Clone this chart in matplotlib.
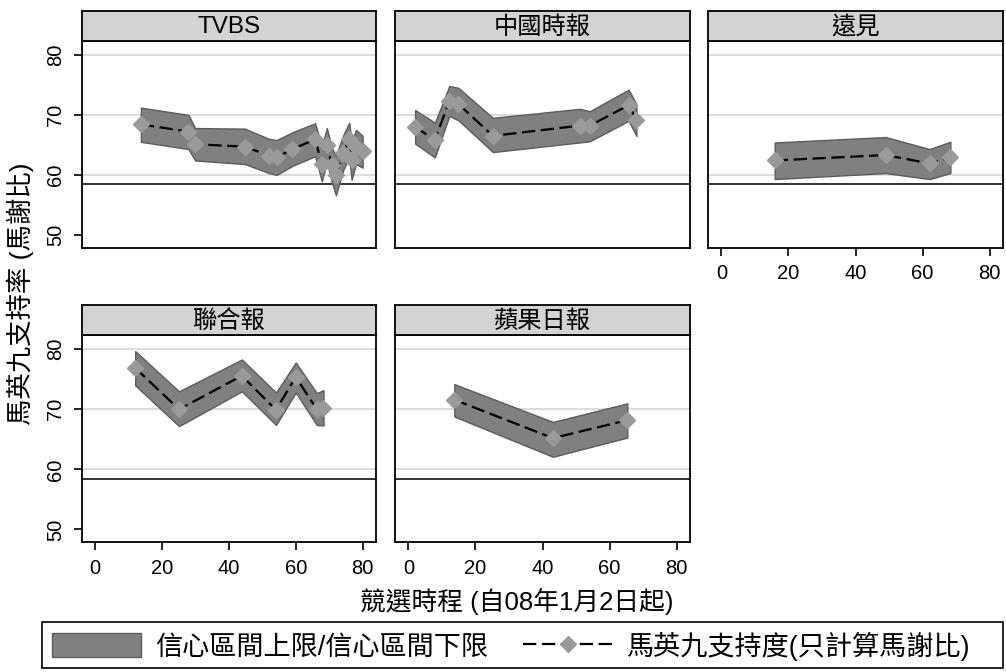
import matplotlib
matplotlib.use("Agg")
import matplotlib.pyplot as plt
from matplotlib.patches import Patch, Rectangle
from matplotlib.lines import Line2D

plt.rcParams['font.family'] = ['Liberation Sans', 'Noto Sans CJK TC']

# data (day since 2008-01-02, Ma share %, CI upper, CI lower)
tvbs_day = [13.7, 27.9, 29.9, 44.8, 52.0, 54.3, 59.0, 65.8, 67.8, 69.3, 70.8, 72.0, 74.2, 76.0, 76.7, 78.0, 80.0]
tvbs_ma = [68.4, 67.2, 65.1, 64.7, 63.2, 62.9, 64.3, 65.9, 61.8, 65.0, 61.7, 60.0, 63.7, 65.9, 62.5, 64.7, 63.9]
tvbs_hi = [71.2, 70.0, 67.8, 67.7, 66.0, 65.8, 67.1, 68.6, 64.7, 67.8, 64.5, 63.2, 66.6, 68.7, 65.4, 67.5, 66.5]
tvbs_lo = [65.5, 64.3, 62.4, 61.8, 60.3, 60.0, 61.5, 63.1, 58.9, 62.2, 58.8, 56.6, 60.8, 63.0, 59.2, 61.8, 61.2]

ct_day = [2.0, 7.9, 12.2, 14.9, 25.2, 51.1, 54.1, 65.7, 68.0]
ct_ma = [68.0, 65.8, 72.3, 71.8, 66.5, 68.2, 68.2, 71.6, 69.2]
ct_hi = [70.8, 68.7, 74.8, 74.5, 69.5, 71.0, 70.6, 74.2, 71.8]
ct_lo = [65.2, 62.9, 69.8, 69.1, 63.8, 65.4, 65.6, 69.0, 66.5]

yj_day = [15.9, 49.0, 62.1, 68.3]
yj_ma = [62.4, 63.3, 61.9, 62.9]
yj_hi = [65.4, 66.3, 64.3, 65.5]
yj_lo = [59.3, 60.3, 59.3, 60.3]

udn_day = [12.0, 25.1, 43.9, 54.1, 60.0, 66.3, 68.3]
udn_ma = [76.9, 70.0, 75.6, 69.9, 75.4, 70.0, 70.3]
udn_hi = [79.7, 73.0, 78.3, 72.8, 77.8, 72.7, 73.2]
udn_lo = [74.0, 67.2, 73.0, 67.4, 72.8, 67.4, 67.3]

ad_day = [13.7, 43.1, 65.3]
ad_ma = [71.6, 65.2, 68.2]
ad_hi = [74.2, 67.9, 71.0]
ad_lo = [68.8, 62.1, 65.3]

names = ['TVBS', '中國時報', '遠見', '聯合報', '蘋果日報']
days = [tvbs_day, ct_day, yj_day, udn_day, ad_day]
ma = [tvbs_ma, ct_ma, yj_ma, udn_ma, ad_ma]
hi = [tvbs_hi, ct_hi, yj_hi, udn_hi, ad_hi]
lo = [tvbs_lo, ct_lo, yj_lo, udn_lo, ad_lo]

vote_share = 58.45
x_ticks = [0, 20, 40, 60, 80]
y_ticks = [50, 60, 70, 80]

W, H = 1006, 672
fig = plt.figure(figsize=(W / 100, H / 100), dpi=100)


def rect(x0, y0, x1, y1):
    return [x0 / W, 1 - y1 / H, (x1 - x0) / W, (y1 - y0) / H]


cols = [(81.7, 376), (395, 690), (708, 1003)]
rows = [(10.7, 41, 247.5), (305, 335.5, 542)]
band_c = '#808080'
mark_c = '#9a9a9a'

for i, name in enumerate(names):
    r, c = divmod(i, 3)
    x0, x1 = cols[c]
    s0, a0, a1 = rows[r]
    ax = fig.add_axes(rect(x0, a0, x1, a1))
    st = fig.add_axes(rect(x0, s0, x1, a0))
    st.set_facecolor('#d3d3d3')
    st.set_xticks([])
    st.set_yticks([])
    for sp in st.spines.values():
        sp.set_linewidth(1.3)
    st.text(0.5, 0.45, name, ha='center', va='center', fontsize=17.5, transform=st.transAxes)

    ax.fill_between(days[i], lo[i], hi[i], facecolor=band_c, edgecolor='#5c5c5c', linewidth=1, zorder=2)
    ax.plot(days[i], ma[i], color='black', lw=1.6, dashes=(6, 2.5), zorder=3)
    ax.plot(days[i], ma[i], ls='none', marker='D', ms=8, color=mark_c, zorder=4)
    ax.axhline(vote_share, color='#333333', lw=1.4, zorder=1)
    for g in [60, 70, 80]:
        ax.axhline(g, color='#dcdcdc', lw=1.4, zorder=0)

    ax.set_xlim(-4, 84)
    ax.set_ylim(47.9, 82.3)
    ax.set_xticks(x_ticks)
    ax.set_yticks(y_ticks)
    for sp in ax.spines.values():
        sp.set_linewidth(1.3)
    ax.tick_params(length=6, width=1.2, labelsize=14.5, pad=6)
    if c == 0:
        for lab in ax.get_yticklabels():
            lab.set_rotation(90)
            lab.set_va('center')
    else:
        ax.tick_params(axis='y', left=False, labelleft=False)
    if r == 0 and c != 2:
        ax.tick_params(axis='x', bottom=False, labelbottom=False)

fig.text(20 / W, 1 - 294 / H, '馬英九支持率 (馬謝比)', rotation=90, ha='center', va='center', fontsize=19)
fig.text(517 / W, 1 - 601 / H, '競選時程 (自08年1月2日起)', ha='center', va='center', fontsize=18.5)

# legend box drawn by hand, legend itself without frame
fig.patches.append(Rectangle((42 / W, 1 - 668 / H), 961 / W, 46 / H, transform=fig.transFigure,
                             fill=False, edgecolor='black', linewidth=1.2))
handles = [Patch(facecolor=band_c, edgecolor='#5c5c5c', linewidth=1),
           Line2D([], [], color='black', lw=1.6, dashes=(6, 2.5), marker='D', ms=8,
                  markerfacecolor=mark_c, markeredgecolor=mark_c)]
labels = ['信心區間上限/信心區間下限', '馬英九支持度(只計算馬謝比)']
fig.legend(handles, labels, loc='center left', bbox_to_anchor=(52 / W, 1 - 646 / H),
           ncol=2, fontsize=19.5, frameon=False, borderaxespad=0, borderpad=0,
           handlelength=3.3, handleheight=1.0, columnspacing=1.3, handletextpad=0.5)

fig.savefig('out.png', dpi=100)
